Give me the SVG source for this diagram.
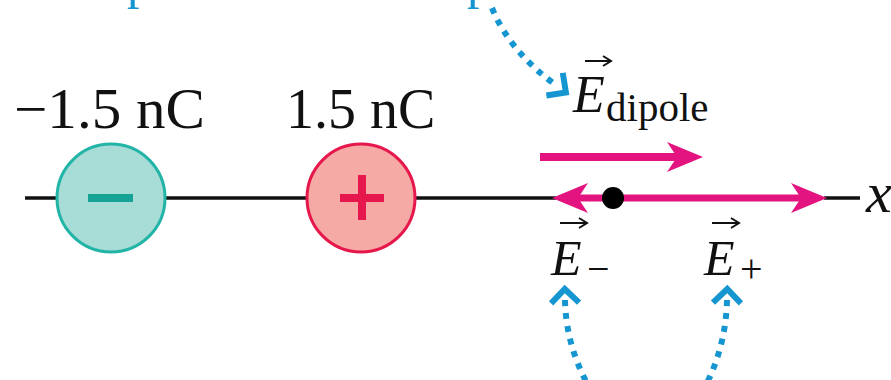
<svg xmlns="http://www.w3.org/2000/svg" width="891" height="380" viewBox="0 0 891 380">
<style>
  .serif{font-family:"Liberation Serif","Times New Roman",serif;fill:#111}
  .it{font-style:italic}
  .blue{fill:#1596d1}
  .axis{stroke:#111;stroke-width:3.5;fill:none}
  .pointer{stroke:#1596d1;stroke-width:6;fill:none;stroke-dasharray:6 7}
  .vec{stroke:#111;stroke-width:2;fill:none}
  .mag{fill:#e3147f}
</style>
<defs>
  <marker id="chev" markerUnits="userSpaceOnUse" markerWidth="40" markerHeight="40" viewBox="-20 -20 40 40" refX="0" refY="0" orient="auto-start-reverse" overflow="visible">
    <path d="M-3,-14 L11,0 L-3,14" fill="none" stroke="#1596d1" stroke-width="6"/>
  </marker>
</defs>

<g id="caption-fragment">
  <text class="serif blue" x="127" y="-2" font-size="50">p</text>
  <text class="serif blue" x="467" y="-2" font-size="50">p</text>
</g>

<g id="axis">
  <line class="axis" x1="25" y1="198" x2="57" y2="198"/>
  <line class="axis" x1="165" y1="198" x2="307" y2="198"/>
  <line class="axis" x1="415" y1="198" x2="556" y2="198"/>
  <line class="axis" x1="824" y1="198" x2="860" y2="198"/>
  <text class="serif it" x="866" y="212" font-size="58">x</text>
</g>

<g id="neg-charge">
  <circle cx="111" cy="198" r="54" fill="#a8dcd6" stroke="#22b4a7" stroke-width="3"/>
  <rect x="88" y="194" width="45" height="8" fill="#14a394"/>
  <text class="serif" x="14" y="128" font-size="56" textLength="191" lengthAdjust="spacingAndGlyphs">−1.5 nC</text>
</g>

<g id="pos-charge">
  <circle cx="361" cy="198" r="54" fill="#f5aaa6" stroke="#e6174b" stroke-width="3"/>
  <rect x="340" y="194" width="44" height="8" fill="#e6174c"/>
  <rect x="358" y="175" width="8" height="45" fill="#e6174c"/>
  <text class="serif" x="286" y="128" font-size="56">1.5 nC</text>
</g>

<g id="e-dipole">
  <rect class="mag" x="540" y="153" width="140" height="8"/>
  <path class="mag" d="M703,157 L667,142 L677,157 L667,172 Z"/>
  <path class="vec" d="M585,61 L610,61 M603,56 L611,61 L603,66"/>
  <text class="serif it" x="573" y="112" font-size="52">E</text>
  <text class="serif" x="606" y="121" font-size="41">dipole</text>
</g>

<g id="e-minus-plus">
  <rect class="mag" x="575" y="194.5" width="230" height="7"/>
  <path class="mag" d="M552,198 L588,183 L578,198 L588,213 Z"/>
  <path class="mag" d="M827,198 L791,183 L801,198 L791,213 Z"/>
  <circle cx="613" cy="198" r="11" fill="#000"/>
  <path class="vec" d="M560,223 L586,223 M579,218 L587,223 L579,228"/>
  <text class="serif it" x="551" y="275" font-size="50">E</text>
  <text class="serif" x="587" y="282" font-size="40">−</text>
  <path class="vec" d="M712,223 L738,223 M731,218 L739,223 L731,228"/>
  <text class="serif it" x="704" y="275" font-size="50">E</text>
  <text class="serif" x="740" y="282" font-size="40">+</text>
</g>

<g id="connectors">
  <path class="pointer" d="M492,8 Q510,52 557,86" marker-end="url(#chev)"/>
  <path class="pointer" d="M565,300 Q566,345 588,385" marker-start="url(#chev)"/>
  <path class="pointer" d="M727,300 Q726,345 706,385" marker-start="url(#chev)"/>
</g>
</svg>
